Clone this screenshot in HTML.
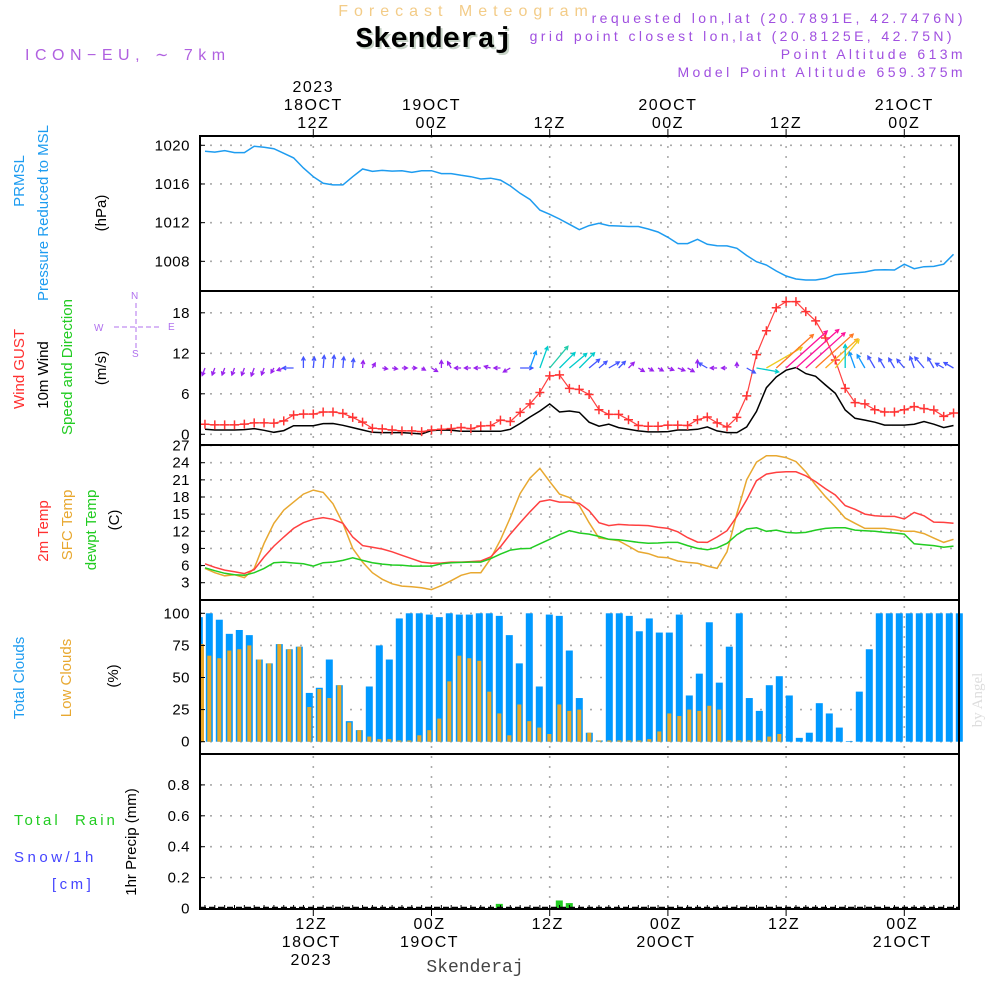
<!DOCTYPE html>
<html><head><meta charset="utf-8"><style>
html,body{margin:0;padding:0;background:#fff;}
svg{display:block;font-family:"Liberation Sans",sans-serif;}
</style></head><body>
<svg id="chart" width="1000" height="1000" viewBox="0 0 1000 1000" xmlns="http://www.w3.org/2000/svg">
<rect width="1000" height="1000" fill="#fff"/>
<text x="466" y="16" text-anchor="middle" font-size="16" fill="#f3cc88" letter-spacing="6">Forecast Meteogram</text>
<text x="436" y="49" text-anchor="middle" font-size="29" font-weight="bold" font-family="Liberation Mono,monospace" fill="#c8d4c8">Skenderaj</text>
<text x="434" y="47" text-anchor="middle" font-size="29" font-weight="bold" font-family="Liberation Mono,monospace" fill="#000">Skenderaj</text>
<text x="25" y="60" font-size="16" fill="#b060e0" letter-spacing="5.5">ICON−EU, ∼ 7km</text>
<g font-size="14" fill="#a050e0" text-anchor="end" letter-spacing="3.4">
<text x="966" y="23">requested lon,lat (20.7891E, 42.7476N)</text>
<text x="955" y="41">grid point closest lon,lat (20.8125E, 42.75N)</text>
<text x="966" y="59">Point Altitude 613m</text>
<text x="966" y="77">Model Point Altitude 659.375m</text>
</g>
<text transform="translate(982,700) rotate(-90)" text-anchor="middle" font-size="15" font-family="Liberation Serif,serif" fill="#dddddd">by Angel</text>
<g id="grid"></g>
<g id="marks"></g>
<g id="frames"></g>
<g id="ticks" font-size="15" fill="#000"></g>
<g id="ylabels" font-size="15">
<text transform="translate(24,181) rotate(-90)" text-anchor="middle" fill="#1e9cf0">PRMSL</text>
<text transform="translate(48,213) rotate(-90)" text-anchor="middle" fill="#1e9cf0">Pressure Reduced to MSL</text>
<text transform="translate(106,213) rotate(-90)" text-anchor="middle" fill="#000">(hPa)</text>
<text transform="translate(24,369) rotate(-90)" text-anchor="middle" fill="#ff3030">Wind GUST</text>
<text transform="translate(48,375) rotate(-90)" text-anchor="middle" fill="#000">10m Wind</text>
<text transform="translate(72,367) rotate(-90)" text-anchor="middle" fill="#22cc22">Speed and Direction</text>
<text transform="translate(106,368) rotate(-90)" text-anchor="middle" fill="#000">(m/s)</text>
<text transform="translate(48,531) rotate(-90)" text-anchor="middle" fill="#ff3030">2m Temp</text>
<text transform="translate(72,525) rotate(-90)" text-anchor="middle" fill="#e8a830">SFC Temp</text>
<text transform="translate(96,530) rotate(-90)" text-anchor="middle" fill="#22cc22">dewpt Temp</text>
<text transform="translate(119,520) rotate(-90)" text-anchor="middle" fill="#000">(C)</text>
<text transform="translate(24,678) rotate(-90)" text-anchor="middle" fill="#1e9cf0">Total Clouds</text>
<text transform="translate(71,678) rotate(-90)" text-anchor="middle" fill="#e8a830">Low Clouds</text>
<text transform="translate(118,676) rotate(-90)" text-anchor="middle" fill="#000">(%)</text>
<text transform="translate(136,842) rotate(-90)" text-anchor="middle" fill="#000">1hr Precip (mm)</text>
<text x="14" y="825" fill="#22cc22" letter-spacing="3" xml:space="preserve">Total  Rain</text>
<text x="14" y="862" fill="#4444ff" letter-spacing="3.5">Snow/1h</text>
<text x="52" y="889" fill="#4444ff" letter-spacing="3.5">[cm]</text>
</g>
<g fill="#b070ee" stroke="#b070ee" font-size="10">
<text x="131" y="299" stroke="none">N</text><text x="94" y="331" stroke="none">W</text><text x="168" y="330" stroke="none">E</text><text x="132" y="357" stroke="none">S</text>
<line x1="114" y1="327" x2="162" y2="327" stroke-dasharray="5,3" fill="none"/>
<line x1="136" y1="303" x2="136" y2="350" stroke-dasharray="5,3" fill="none"/>
</g>
<text x="475" y="972" text-anchor="middle" font-size="18" font-family="Liberation Mono,monospace" fill="#444">Skenderaj</text>
</svg>
<script>
const pressure=[1019.38,1019.3,1019.45,1019.25,1019.25,1019.9,1019.8,1019.65,1019.17,1018.7,1017.65,1016.75,1016.07,1015.9,1015.9,1016.75,1017.55,1017.3,1017.4,1017.33,1017.37,1017.2,1017.37,1017.37,1017.07,1017.07,1016.9,1016.75,1016.52,1016.6,1016.4,1015.8,1015.04,1014.4,1013.3,1012.86,1012.38,1011.83,1011.27,1011.7,1011.93,1011.7,1011.65,1011.6,1011.6,1011.34,1011.03,1010.49,1009.83,1009.83,1010.28,1009.76,1009.62,1009.6,1009.35,1008.6,1007.96,1007.62,1007.0,1006.48,1006.17,1006.07,1006.07,1006.24,1006.62,1006.72,1006.8,1006.9,1007.1,1007.14,1007.1,1007.7,1007.24,1007.45,1007.48,1007.7,1008.73];
const gust=[1.48,1.4,1.4,1.4,1.5,1.7,1.7,1.65,1.98,2.86,3,3,3.3,3.3,3.1,2.5,1.8,0.9,0.8,0.64,0.5,0.5,0.4,0.64,0.74,0.84,1,0.84,1.23,1.28,2.1,1.9,3.25,4.5,6.2,8.65,8.8,6.8,6.65,5.9,3.64,2.95,2.95,2.16,1.3,1.2,1.2,1.36,1.36,1.3,2.16,2.56,1.7,1.1,2.5,5.7,11.8,15.35,18.75,19.65,19.65,18.17,16.8,14.27,11,6.8,4.7,4.5,3.64,3.3,3.3,3.64,4.1,3.8,3.6,2.66,3.16];
const windSpeed=[0.74,0.64,0.64,0.64,0.7,0.84,0.6,0.3,0.55,1.28,1.28,1.28,1.58,1.6,1.33,1,0.64,0.3,0.25,0.25,0.25,0.15,0.05,0.55,0.64,0.6,0.45,0.45,0.45,0.45,0.45,0.74,1.6,2.56,3.45,4.5,3.3,3.45,3.25,1.8,1.2,1.5,1,0.74,0.5,0.35,0.35,0.4,0.64,0.64,0.74,1.1,0.5,0.25,0.25,1.1,3.4,6.9,8.5,9.5,9.9,9,8.6,7.3,6.07,3.6,2.37,2.1,1.8,1.36,1.36,1.36,1.5,1.9,1.5,1,1.3];
const windDir=[200,200,200,200,200,200,200,210,250,270,0,5,5,5,5,5,5,30,100,100,90,90,120,120,0,330,270,270,270,285,270,240,90,20,20,40,45,50,45,50,50,60,45,45,120,120,120,110,110,120,0,300,270,270,0,120,100,60,48,48,48,48,48,48,40,0,340,330,330,330,330,320,340,320,330,300,300];
const temp2m=[6.3,5.7,5.2,4.9,4.6,5.3,7.5,9.4,11,12.5,13.5,14.1,14.4,14.1,13.4,11,9.5,9.2,8.9,8.4,7.8,7.2,6.6,6.4,6.45,6.6,6.6,6.7,6.8,7.5,9.3,11.5,13.5,15.4,17.2,17.5,17.1,17.1,16.9,15.6,13.5,13,13.2,13.1,13.05,13,12.7,12.5,11.9,10.9,10.1,10.05,11,12.1,14.6,17.5,20.85,22,22.3,22.4,22.4,21.7,20.7,19.45,18.35,16.5,15.85,15,14.7,14.6,14.6,14.15,15.3,14.7,13.6,13.55,13.4];
const sfcTemp=[5.5,4.75,4.2,4.4,3.9,5.5,9.9,13.4,15.7,17.1,18.5,19.2,18.8,16.8,13.4,9,6.6,4.75,3.6,2.8,2.4,2.3,2.1,1.8,2.5,3.35,4.3,4.75,4.75,7.2,10.5,14.4,18.6,21.3,23,20.7,18.5,17.9,16.5,13.5,10.8,10.6,10.35,9.4,8.4,8.1,7.5,7.35,6.8,6.55,6.4,5.9,5.5,8.4,15.1,21,24.1,25.2,25.2,24.9,24.2,22.4,20.1,18.05,16.3,14.3,13.4,12.5,12.5,12.5,12.25,12,12,11.6,10.8,10.05,10.6];
const dewpt=[5.6,5.1,4.65,4.4,4.3,4.75,5.5,6.5,6.6,6.45,6.3,5.9,6.5,6.6,6.9,7.35,6.9,6.5,6.25,6.1,6.05,5.9,5.9,5.9,6.3,6.5,6.55,6.6,6.6,7.2,8,8.7,8.95,9,9.8,10.6,11.4,12.1,11.7,11.5,11.1,10.6,10.5,10.3,10.05,9.9,9.95,10.05,10.05,9.5,9,8.75,9.1,9.9,11.4,12.4,12.6,12,12.2,11.8,11.7,11.8,12.2,12.5,12.6,12.6,12.2,12.1,12,11.8,11.7,11.5,9.8,9.65,9.5,9.2,9.4];
const totalClouds=[97,100,95,84,87,83,64,61,76,72,74,38,42,64,44,16,9,43,75,64,96,100,100,99,97,100,99,99,100,100,98,83,61,100,43,99,98,71,34,7,1,100,100,98,86,96,85,85,99,36,53,93,46,74,100,34,24,44,51,36,3,7,30,22,11,0.5,39,72,100,100,100,100,100,100,100,100,100];
const lowClouds=[76,67,65,71,72,75,64,61,76,72,74,27,41,34,44,15,9,4,2,2,1,1,5,9,18,47,67,65,63,39,22,5,29,16,11,6,29,24,25,7,1,1,1,1,1,2,8,22,20,25,24,28,25,1,1,1,1,4,6,0,0,0,0,0,0,0,0,0,0,0,0,0,0,0,0,0,0];
const precip=[0,0,0,0,0,0,0,0,0,0,0,0,0,0,0,0,0,0,0,0,0,0,0,0,0,0,0,0,0,0,0.03,0,0,0,0,0,0.052,0.035,0,0,0,0,0,0,0,0,0,0,0,0,0,0,0,0,0,0,0,0,0,0,0,0,0,0,0,0,0,0,0,0,0,0,0,0,0,0,0];
const pTicks=[1020,1016,1012,1008];
const wTicks=[18,12,6,0];
const tTicks=[27,24,21,18,15,12,9,6,3];
const cTicks=[100,75,50,25,0];
const rTicks=[0.8,0.6,0.4,0.2,0];
const timeHours=[12,24,36,48,60,72];
const topTimeLabels=[["2023","18OCT","12Z"],["","19OCT","00Z"],["","","12Z"],["","20OCT","00Z"],["","","12Z"],["","21OCT","00Z"]];
const bottomTimeLabels=[["12Z","18OCT","2023"],["00Z","19OCT",""],["12Z","",""],["00Z","20OCT",""],["12Z","",""],["00Z","21OCT",""]];

const NS="http://www.w3.org/2000/svg";
const X0=200,X1=959;
const xT=h=>313.3+(h-12)*9.85;
const xD=i=>xT(i+1);
const xB=i=>199.3+i*10;
const yP=v=>145.3+(1020-v)*9.67;
const yW=v=>434.3-v*6.75;
const yTm=v=>582.7-(v-3)*5.714;
const yC=v=>741.7-v*1.284;
const yR=v=>908.5-v*154.5;
const panels=[[136,291],[291,445],[445,600],[600,754],[754,909]];
function mk(tag,attrs,parent){const e=document.createElementNS(NS,tag);for(const k in attrs)e.setAttribute(k,attrs[k]);parent.appendChild(e);return e;}
const grid=document.getElementById('grid'),marks=document.getElementById('marks'),frames=document.getElementById('frames'),ticks=document.getElementById('ticks');

function hAxis(vals,yf,name,fmt){vals.forEach(v=>{const y=yf(v);
 const g=mk('line',{x1:X0,x2:X1,y1:y,y2:y,stroke:'#aaa','stroke-width':1.6,'stroke-dasharray':'2,8'},grid);
 
 
 const tk=mk('line',{x1:X0,x2:X0+5,y1:y,y2:y,stroke:'#000','stroke-width':1},ticks);
 
 
 const t=mk('text',{x:190,y:y+5,'text-anchor':'end','letter-spacing':0.5},ticks);t.textContent=fmt?fmt(v):v;
 
 });}
hAxis(pTicks,yP,'pressure-axis');
hAxis(wTicks,yW,'wind-axis');
hAxis(tTicks,yTm,'temp-axis');
hAxis(cTicks,yC,'cloud-axis');
hAxis(rTicks,yR,'precip-axis',v=>v===0?'0':v.toFixed(1));

timeHours.forEach((h,k)=>{const x=xT(h);
 const g=mk('line',{x1:x,x2:x,y1:136,y2:909,stroke:'#aaa','stroke-width':1.6,'stroke-dasharray':'2,8'},grid);
 
 
 const t1=mk('line',{x1:x,x2:x,y1:129,y2:136,stroke:'#000'},ticks);
 
 
 const t2=mk('line',{x1:x,x2:x,y1:909,y2:916,stroke:'#000'},ticks);
 
 
 topTimeLabels[k].forEach((s,j)=>{if(!s)return;const t=mk('text',{x:x,y:92+j*18,'text-anchor':'middle','font-size':16,'letter-spacing':1.5},ticks);t.textContent=s;
  
  });
 bottomTimeLabels[k].forEach((s,j)=>{if(!s)return;const t=mk('text',{x:x-2,y:929+j*18,'text-anchor':'middle','font-size':16,'letter-spacing':1.5},ticks);t.textContent=s;
  
  });
});
for(let h=1;h<=77;h++){const l=mk('line',{x1:xT(h),x2:xT(h),y1:905,y2:909,stroke:'#000','stroke-width':1},ticks);
 
 }

function line(arr,xf,yf,color,name,w){const p=arr.map((v,i)=>xf(i).toFixed(1)+','+yf(v).toFixed(1)).join(' ');
 const e=mk('polyline',{points:p,fill:'none',stroke:color,'stroke-width':w||1.5},marks);
 
 return e;}

totalClouds.forEach((v,i)=>{const x=xB(i),y=yC(v);const l=Math.max(X0,x-3.5);
 const r=mk('rect',{x:l,y:y,width:7-(l-(x-3.5)),height:yC(0)-y,fill:'#0099ff'},marks);
 
 });
lowClouds.forEach((v,i)=>{const x=xB(i),y=yC(v);if(v<=0)return;
 const r=mk('rect',{x:Math.max(X0,x-2),y:y,width:4,height:yC(0)-y,fill:'#e8a828'},marks);
 
 });
precip.forEach((v,i)=>{if(v<=0)return;const x=xB(i),y=yR(v);
 const r=mk('rect',{x:x-3.5,y:y,width:7,height:yR(0)-y,fill:'#22cc22'},marks);
 
 });
const base=mk('line',{x1:X0,x2:X1,y1:907.5,y2:907.5,stroke:'#000','stroke-width':1.5,'stroke-dasharray':'6,3'},marks);



line(pressure,xD,yP,'#1e9cf0','pressure-line',1.5);
line(sfcTemp,xD,yTm,'#e8a830','sfc-temp-line',1.5);
line(temp2m,xD,yTm,'#ff4040','temp-2m-line',1.5);
line(dewpt,xD,yTm,'#22cc22','dewpt-line',1.5);
line(windSpeed,xD,yW,'#000','wind-speed-line',1.5);
line(gust,xD,yW,'#ff4040','gust-line',1.2);
gust.forEach((v,i)=>{const x=xD(i),y=yW(v);
 const p=mk('path',{d:`M${x-4.5},${y}H${x+4.5}M${x},${y-4.5}V${y+4.5}`,stroke:'#ff3333','stroke-width':1.5,fill:'none'},marks);
 
 });
function wcol(s){if(s<1)return'#9922ee';if(s<2)return'#4455ff';if(s<3)return'#1199ff';if(s<4)return'#00cccc';if(s<5)return'#22ccaa';if(s<6)return'#99dd22';if(s<7)return'#eecc22';if(s<8)return'#ffaa22';if(s<9)return'#ff7722';return'#ff1199';}
windDir.forEach((d,i)=>{const s=windSpeed[i],L=4+s*5.4,a=d*Math.PI/180;const x=xD(i),y=368;
 const ex=x+L*Math.sin(a),ey=y-L*Math.cos(a);const h=4;
 const a1=a+Math.PI-0.5,a2=a+Math.PI+0.5;
 const p=mk('path',{d:`M${x.toFixed(1)},${y}L${ex.toFixed(1)},${ey.toFixed(1)}M${(ex+h*Math.sin(a1)).toFixed(1)},${(ey-h*Math.cos(a1)).toFixed(1)}L${ex.toFixed(1)},${ey.toFixed(1)}L${(ex+h*Math.sin(a2)).toFixed(1)},${(ey-h*Math.cos(a2)).toFixed(1)}`,stroke:wcol(s),'stroke-width':1.3,fill:'none'},marks);
 
 });

panels.forEach(([a,b],k)=>{const r=mk('rect',{x:X0,y:a,width:X1-X0,height:b-a,fill:'none',stroke:'#000','stroke-width':2},frames);
 
 });
</script>
</body></html>
